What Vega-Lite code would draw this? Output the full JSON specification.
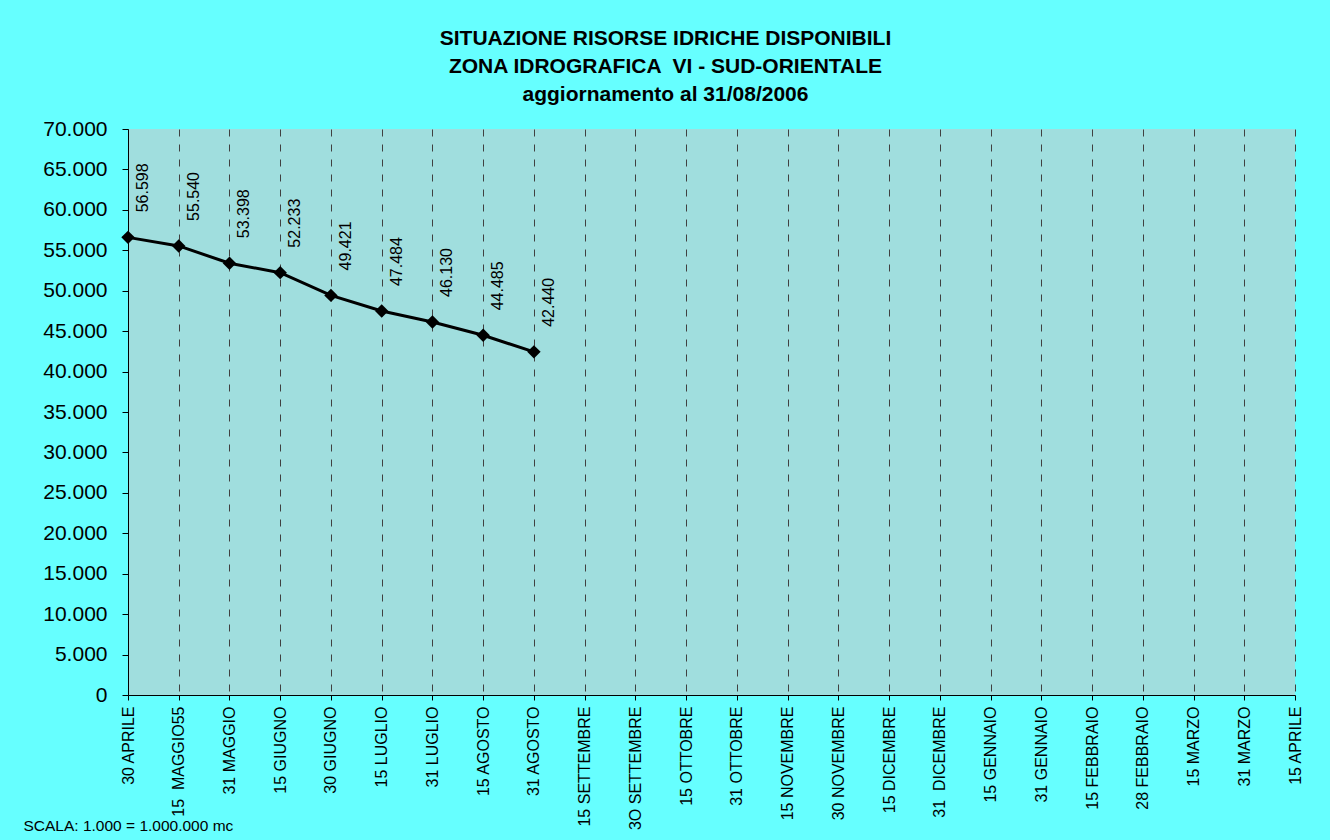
{
  "$schema": "https://vega.github.io/schema/vega-lite/v6.json",
  "width": 1167,
  "height": 566,
  "autosize": "none",
  "padding": {"left": 128, "top": 129, "right": 35, "bottom": 145},
  "background": "#66FFFF",
  "title": {
    "text": ["SITUAZIONE RISORSE IDRICHE DISPONIBILI", "ZONA IDROGRAFICA \u00a0VI - SUD-ORIENTALE", "aggiornamento al 31/08/2006"],
    "fontSize": 21,
    "fontWeight": "bold",
    "font": "Liberation Sans, Arial, sans-serif",
    "color": "black",
    "lineHeight": 28,
    "anchor": "middle",
    "frame": "group",
    "dx": -46,
    "offset": 13
  },
  "data": {
    "values": [
      {"data": "30 APRILE", "valore": 56598},
      {"data": "15 \u00a0MAGGIO55", "valore": 55540},
      {"data": "31 MAGGIO", "valore": 53398},
      {"data": "15 GIUGNO", "valore": 52233},
      {"data": "30 GIUGNO", "valore": 49421},
      {"data": "15 LUGLIO", "valore": 47484},
      {"data": "31 LUGLIO", "valore": 46130},
      {"data": "15 AGOSTO", "valore": 44485},
      {"data": "31 AGOSTO", "valore": 42440}
    ]
  },
  "encoding": {
    "x": {
      "field": "data",
      "type": "nominal",
      "sort": null,
      "scale": {
        "type": "point",
        "padding": 0,
        "domain": ["30 APRILE", "15 \u00a0MAGGIO55", "31 MAGGIO", "15 GIUGNO", "30 GIUGNO", "15 LUGLIO", "31 LUGLIO", "15 AGOSTO", "31 AGOSTO", "15 SETTEMBRE", "3O SETTEMBRE", "15 OTTOBRE", "31 OTTOBRE", "15 NOVEMBRE", "30 NOVEMBRE", "15 DICEMBRE", "31 \u00a0DICEMBRE", "15 GENNAIO", "31 GENNAIO", "15 FEBBRAIO", "28 FEBBRAIO", "15 MARZO", "31 MARZO", "15 APRILE"]
      },
      "axis": {
        "title": "SCALA: 1.000 = 1.000.000 mc",
        "titleX": -105,
        "titleY": 135,
        "titleAlign": "left",
        "titleAnchor": "start",
        "titleBaseline": "alphabetic",
        "titleFontSize": 15.5,
        "titleFontWeight": "normal",
        "titleColor": "black",
        "titleFont": "Liberation Sans, Arial, sans-serif",
        "labelAngle": 270,
        "labelFontSize": 16,
        "labelFont": "Liberation Sans, Arial, sans-serif",
        "labelPadding": 6,
        "labelColor": "black",
        "labelOverlap": false,
        "tickSize": 5,
        "tickColor": "black",
        "domainColor": "black",
        "grid": true,
        "gridDash": [7, 8],
        "gridColor": "#404040",
        "gridWidth": 1,
        "gridOpacity": 1
      }
    },
    "y": {
      "field": "valore",
      "type": "quantitative",
      "scale": {"domain": [0, 70000], "nice": false},
      "axis": {
        "values": [0, 5000, 10000, 15000, 20000, 25000, 30000, 35000, 40000, 45000, 50000, 55000, 60000, 65000, 70000],
        "format": ",.0f",
        "title": null,
        "labelFontSize": 21,
        "labelFont": "Liberation Sans, Arial, sans-serif",
        "labelColor": "black",
        "labelPadding": 15,
        "tickSize": 6,
        "tickColor": "black",
        "domainColor": "black",
        "grid": false
      }
    }
  },
  "layer": [
    {"mark": {"type": "line", "color": "black", "strokeWidth": 3}},
    {"mark": {"type": "point", "shape": "diamond", "filled": true, "color": "black", "size": 180, "opacity": 1}},
    {
      "mark": {"type": "text", "angle": 270, "align": "left", "baseline": "middle", "dx": 25, "dy": 15, "fontSize": 16, "font": "Liberation Sans, Arial, sans-serif", "color": "black"},
      "encoding": {"text": {"field": "valore", "type": "quantitative", "format": ",d"}}
    }
  ],
  "config": {
    "locale": {"number": {"decimal": ",", "thousands": ".", "grouping": [3], "currency": ["€", ""]}},
    "view": {"fill": "#A0DEDE", "stroke": null},
    "font": "Liberation Sans, Arial, sans-serif"
  }
}
